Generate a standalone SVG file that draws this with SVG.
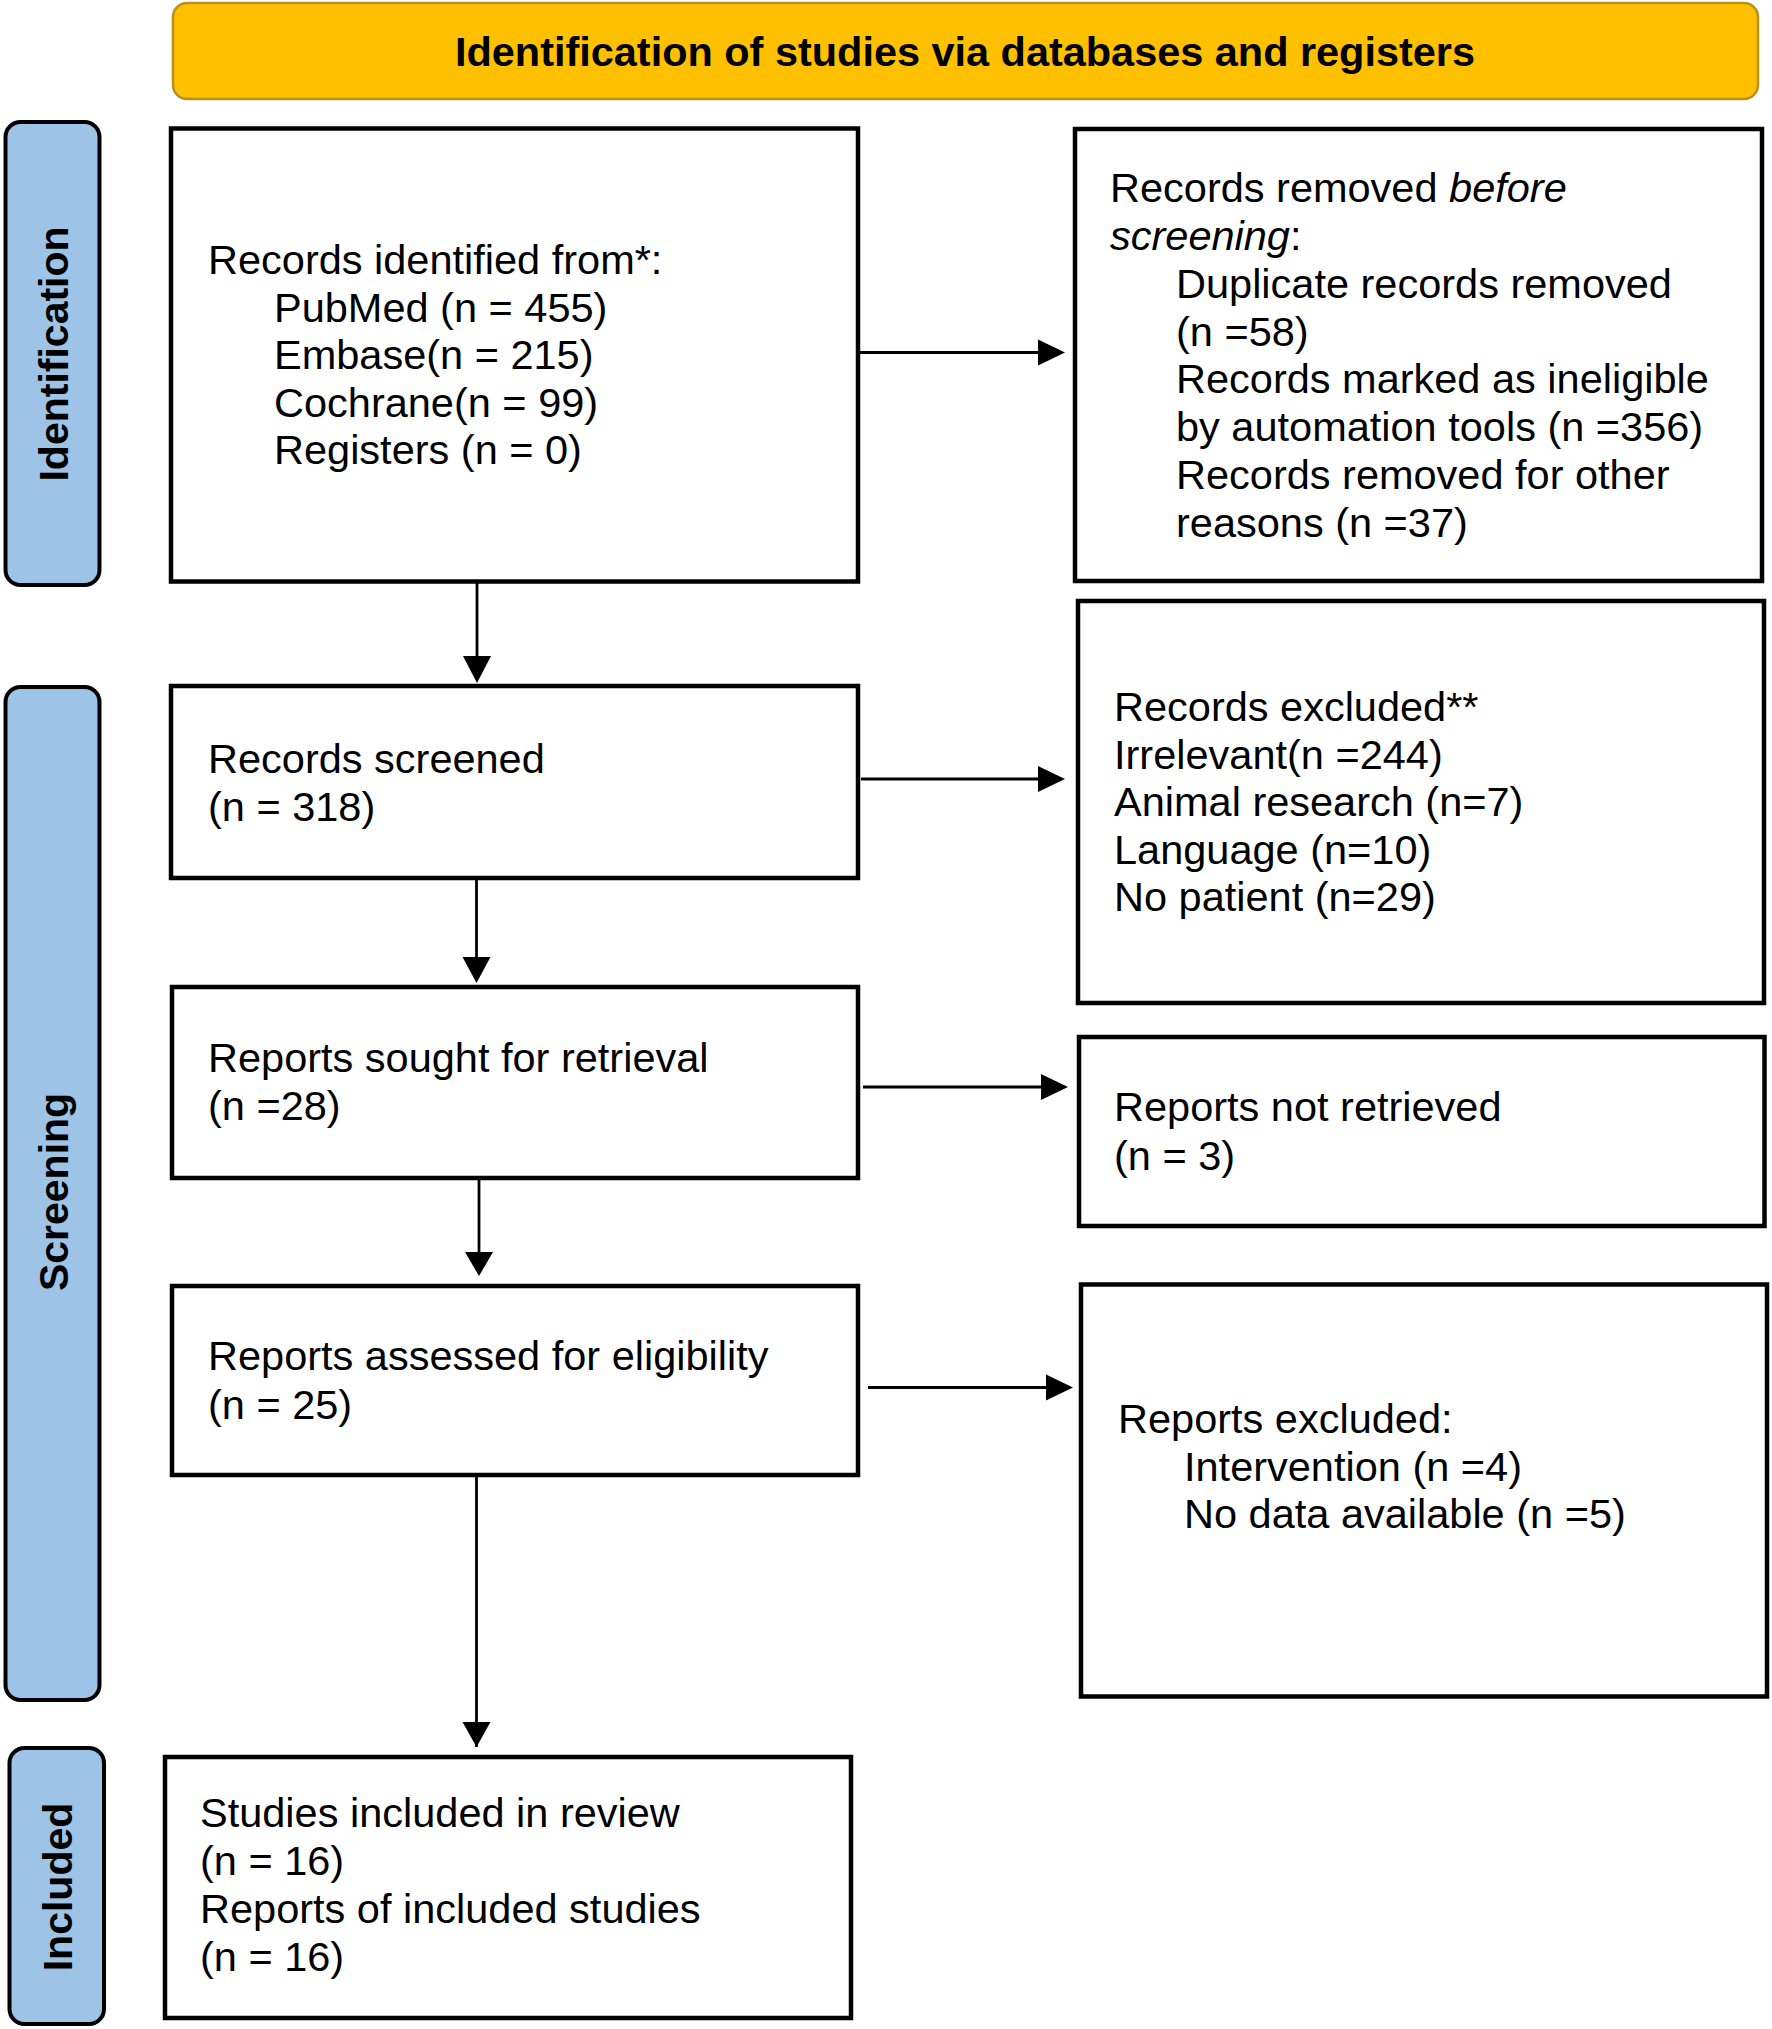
<svg xmlns="http://www.w3.org/2000/svg" width="1772" height="2029" viewBox="0 0 1772 2029">
<style>
.bg{fill:#ffffff}
.box{fill:#ffffff;stroke:#000000;stroke-width:4.5}
.side{fill:#9DC3E6;stroke:#000000;stroke-width:4}
.head{fill:#FFC000;stroke:#B8901A;stroke-width:2.5}
.t{font-family:"Liberation Sans",Arial,sans-serif;font-size:41.5px;fill:#000000}
.b{font-family:"Liberation Sans",Arial,sans-serif;font-size:41px;font-weight:bold;fill:#000000}
.ln{stroke:#000000;stroke-width:2.8;fill:none}
.ah{fill:#000000;stroke:none}
</style>
<rect class="bg" x="0" y="0" width="1772" height="2029"/>
<g id="header">
<rect class="head" x="173" y="3" width="1585" height="96" rx="14"/>
<text class="b" x="965" y="66" text-anchor="middle" textLength="1020" lengthAdjust="spacingAndGlyphs">Identification of studies via databases and registers</text>
</g>
<g id="label-identification">
<rect class="side" x="5.5" y="122" width="94" height="463" rx="15"/>
<text class="b" transform="translate(68,354) rotate(-90)" text-anchor="middle">Identification</text>
</g>
<g id="label-screening">
<rect class="side" x="5.5" y="687" width="94" height="1013" rx="15"/>
<text class="b" transform="translate(68,1192) rotate(-90)" text-anchor="middle">Screening</text>
</g>
<g id="label-included">
<rect class="side" x="9.5" y="1748" width="94.5" height="276" rx="15"/>
<text class="b" transform="translate(72,1887) rotate(-90)" text-anchor="middle">Included</text>
</g>
<g id="node-identified">
<rect class="box" x="171" y="128.5" width="687" height="453"/>
<text class="t" x="208" y="274">Records identified from*:</text>
<text class="t" x="274" y="321.5">PubMed (n = 455)</text>
<text class="t" x="274" y="369">Embase(n = 215)</text>
<text class="t" x="274" y="416.5">Cochrane(n = 99)</text>
<text class="t" x="274" y="464">Registers (n = 0)</text>
</g>
<g id="node-removed">
<rect class="box" x="1075" y="129" width="687" height="452"/>
<text class="t" x="1110" y="201.5">Records removed <tspan font-style="italic">before</tspan></text>
<text class="t" x="1110" y="249.5"><tspan font-style="italic">screening</tspan>:</text>
<text class="t" x="1176" y="297.5">Duplicate records removed</text>
<text class="t" x="1176" y="345.5">(n =58)</text>
<text class="t" x="1176" y="393">Records marked as ineligible</text>
<text class="t" x="1176" y="441">by automation tools (n =356)</text>
<text class="t" x="1176" y="489">Records removed for other</text>
<text class="t" x="1176" y="537">reasons (n =37)</text>
</g>
<g id="node-screened">
<rect class="box" x="171" y="686" width="687" height="192"/>
<text class="t" x="208" y="773">Records screened</text>
<text class="t" x="208" y="821">(n = 318)</text>
</g>
<g id="node-excluded">
<rect class="box" x="1078" y="601" width="686" height="402"/>
<text class="t" x="1114" y="720.5">Records excluded**</text>
<text class="t" x="1114" y="768.5">Irrelevant(n =244)</text>
<text class="t" x="1114" y="816">Animal research (n=7)</text>
<text class="t" x="1114" y="863.5">Language (n=10)</text>
<text class="t" x="1114" y="911">No patient (n=29)</text>
</g>
<g id="node-sought">
<rect class="box" x="172" y="987" width="686" height="191"/>
<text class="t" x="208" y="1072">Reports sought for retrieval</text>
<text class="t" x="208" y="1120">(n =28)</text>
</g>
<g id="node-not-retrieved">
<rect class="box" x="1079" y="1037" width="685.5" height="189"/>
<text class="t" x="1114" y="1120.5">Reports not retrieved</text>
<text class="t" x="1114" y="1169.5">(n = 3)</text>
</g>
<g id="node-assessed">
<rect class="box" x="172" y="1286" width="686" height="189"/>
<text class="t" x="208" y="1370">Reports assessed for eligibility</text>
<text class="t" x="208" y="1418.5">(n = 25)</text>
</g>
<g id="node-reports-excluded">
<rect class="box" x="1081" y="1284.5" width="686" height="412"/>
<text class="t" x="1118" y="1433">Reports excluded:</text>
<text class="t" x="1184" y="1481">Intervention (n =4)</text>
<text class="t" x="1184" y="1528">No data available (n =5)</text>
</g>
<g id="node-included">
<rect class="box" x="165" y="1757" width="686" height="261"/>
<text class="t" x="200" y="1827">Studies included in review</text>
<text class="t" x="200" y="1875">(n = 16)</text>
<text class="t" x="200" y="1922.5">Reports of included studies</text>
<text class="t" x="200" y="1970.5">(n = 16)</text>
</g>
<g id="connectors">
<line class="ln" x1="860" y1="352.5" x2="1040" y2="352.5"/>
<polygon class="ah" points="1038,339.5 1065,352.5 1038,365.5"/>
<line class="ln" x1="861" y1="779" x2="1040" y2="779"/>
<polygon class="ah" points="1038,766 1065,779 1038,792"/>
<line class="ln" x1="863" y1="1087" x2="1043" y2="1087"/>
<polygon class="ah" points="1041,1074 1068,1087 1041,1100"/>
<line class="ln" x1="868" y1="1387.5" x2="1048" y2="1387.5"/>
<polygon class="ah" points="1046,1374.5 1073,1387.5 1046,1400.5"/>
<line class="ln" x1="477" y1="583" x2="477" y2="658"/>
<polygon class="ah" points="463,656 491,656 477,683"/>
<line class="ln" x1="476.5" y1="880" x2="476.5" y2="959"/>
<polygon class="ah" points="462.5,957 490.5,957 476.5,983"/>
<line class="ln" x1="479" y1="1180" x2="479" y2="1254"/>
<polygon class="ah" points="465,1252 493,1252 479,1276"/>
<line class="ln" x1="476.5" y1="1477" x2="476.5" y2="1747"/>
<polygon class="ah" points="462.5,1722 490.5,1722 476.5,1747"/>
</g>
</svg>
